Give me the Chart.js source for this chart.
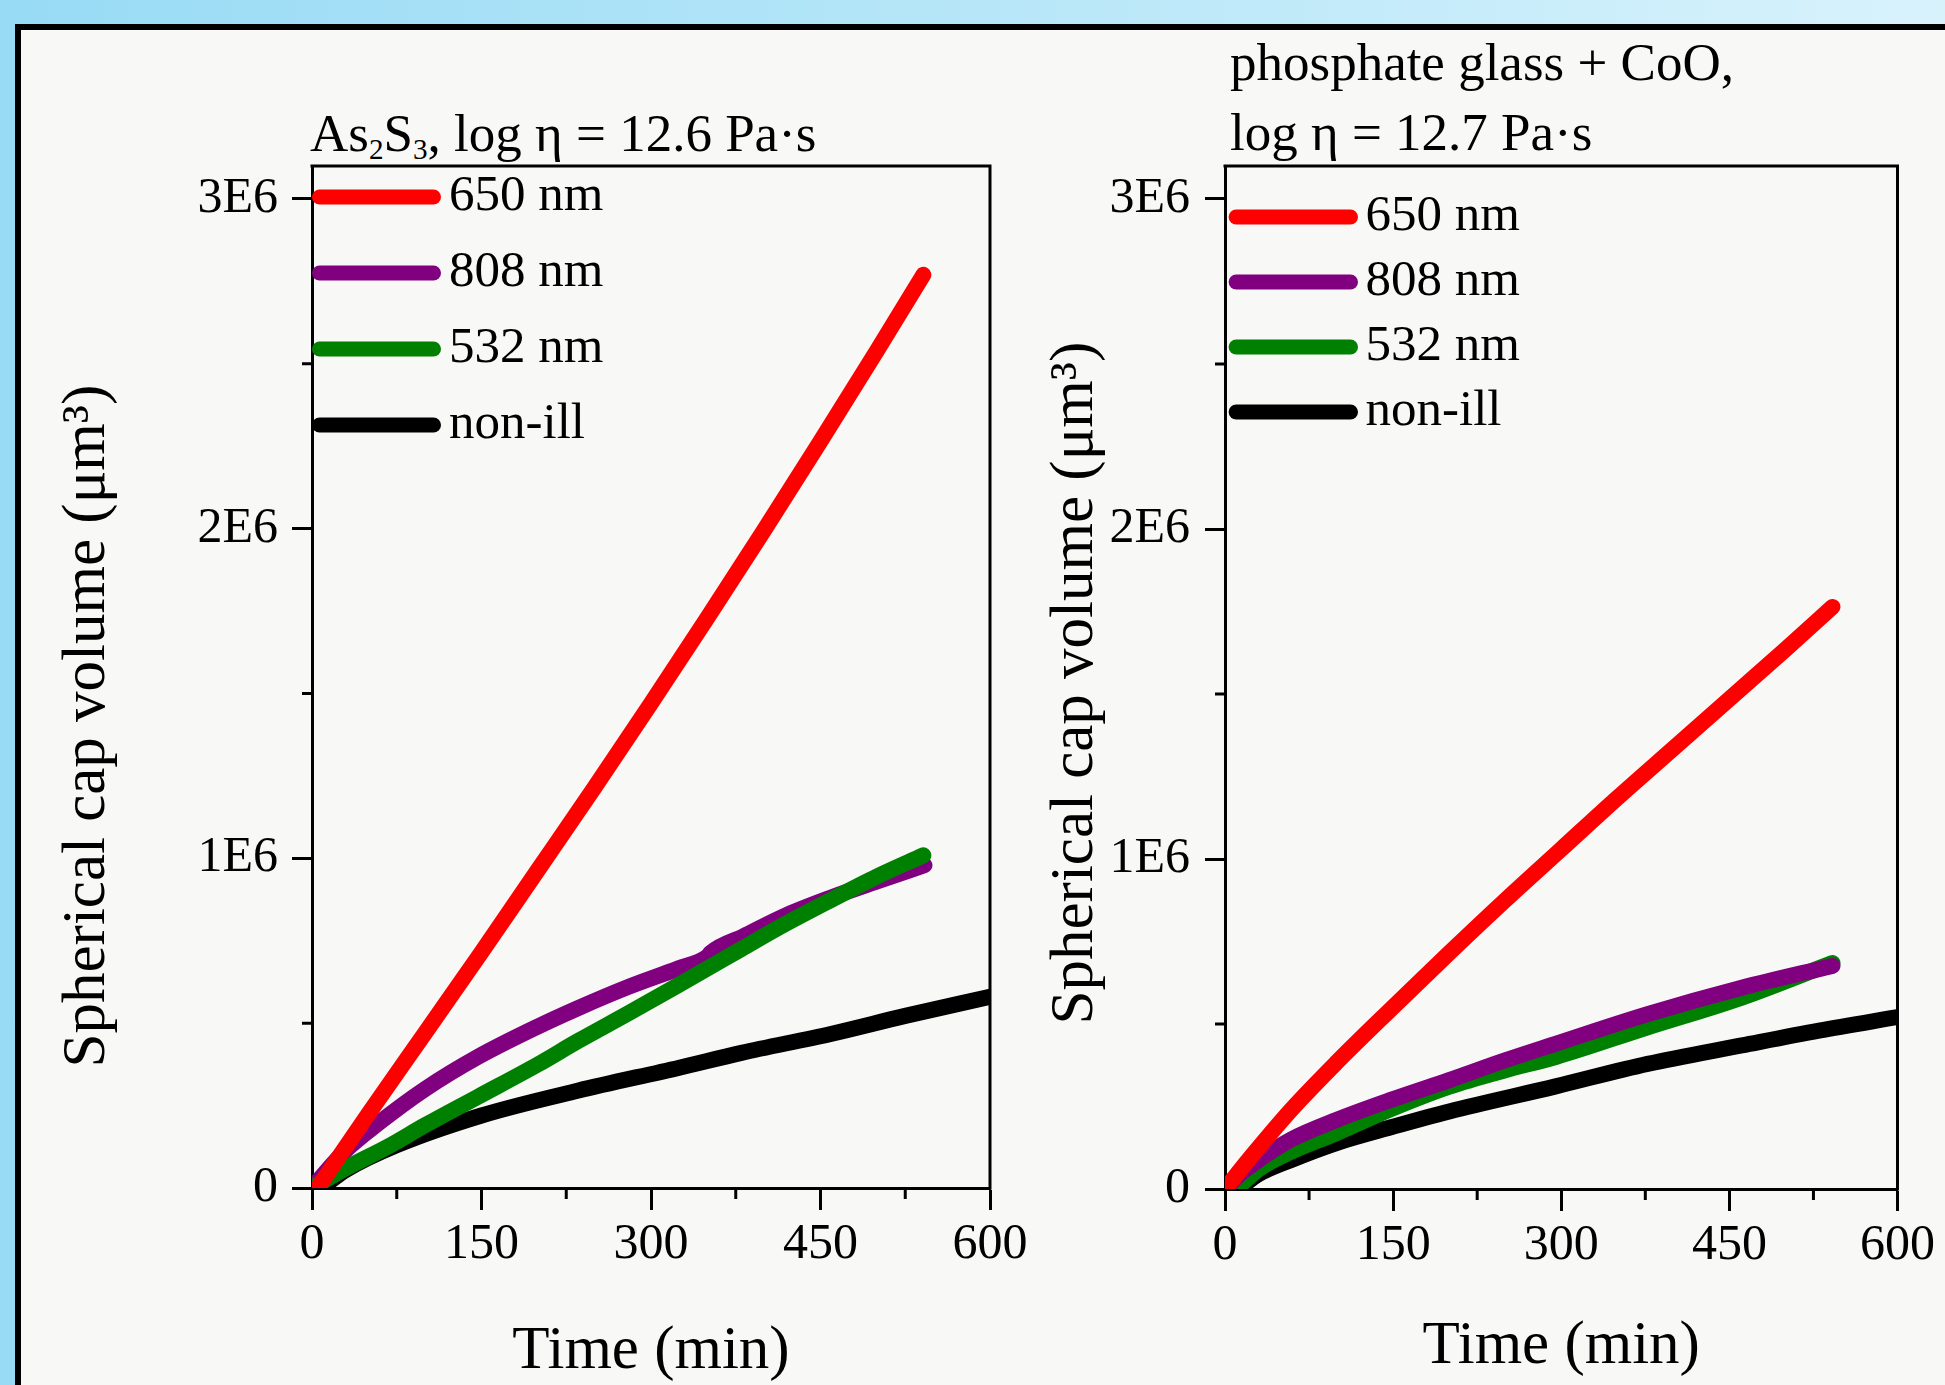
<!DOCTYPE html>
<html><head><meta charset="utf-8">
<script src="https://cdn.jsdelivr.net/npm/chart.js@4.4.1/dist/chart.umd.min.js"></script>
<style>
html,body{margin:0;padding:0;width:1945px;height:1385px;overflow:hidden;}
body{background:linear-gradient(90deg,#98dbf5 0%,#b6e6f8 50%,#d8f2fc 100%);position:relative;font-family:'Liberation Serif','Times New Roman',serif;}
#frame{position:absolute;left:15px;top:24px;width:1960px;height:1400px;border-left:6px solid #000;border-top:6px solid #000;background:#f8f8f6;}
canvas{position:absolute;top:0;}
#c1{left:0}
#c2{left:1000px}
.head{position:absolute;font-size:53px;line-height:53px;color:#000;white-space:nowrap;}
.sb{font-size:0.55em;position:relative;top:0.28em;line-height:0;}
</style></head>
<body>
<div id="frame"></div>
<div class="head" style="left:310px;top:107px">As<span class="sb">2</span>S<span class="sb">3</span>, log η = 12.6 Pa·s</div>
<div class="head" style="left:1230px;top:36px">phosphate glass + CoO,</div>
<div class="head" style="left:1230px;top:106px">log η = 12.7 Pa·s</div>
<canvas id="c1" width="1040" height="1385"></canvas>
<canvas id="c2" width="945" height="1385"></canvas>
<script>
// ---- series names / colours ----
const seriesLabels = ['650 nm', '808 nm', '532 nm', 'non-ill'];
const seriesColors = ['#ff0000', '#800080', '#008000', '#000000'];

// ---- As2S3, log eta = 12.6 Pa·s (left panel) ----
const asTime650 = [5, 50, 100, 150, 200, 250, 300, 350, 400, 450, 500, 541];
const asVol650  = [0, 0.225e6, 0.47e6, 0.715e6, 0.965e6, 1.215e6, 1.47e6, 1.73e6, 1.995e6, 2.265e6, 2.54e6, 2.77e6];
const asTime808 = [0, 15, 30, 59, 100, 147, 200, 235, 280, 324, 350, 353, 382, 420, 460, 500, 542];
const asVol808  = [0, 0.06e6, 0.115e6, 0.197e6, 0.30e6, 0.398e6, 0.49e6, 0.545e6, 0.61e6, 0.666e6, 0.702e6, 0.714e6, 0.764e6, 0.828e6, 0.882e6, 0.93e6, 0.979e6];
const asTime532 = [0, 30, 67, 100, 147, 200, 235, 280, 324, 380, 412, 460, 500, 541];
const asVol532  = [0, 0.06e6, 0.125e6, 0.19e6, 0.277e6, 0.375e6, 0.445e6, 0.53e6, 0.615e6, 0.725e6, 0.788e6, 0.875e6, 0.945e6, 1.009e6];
const asTimeDark = [8, 30, 75, 150, 235, 325, 380, 460, 525, 600];
const asVolDark  = [0, 0.055e6, 0.13e6, 0.22e6, 0.295e6, 0.365e6, 0.41e6, 0.468e6, 0.522e6, 0.58e6];

// ---- phosphate glass + CoO, log eta = 12.7 Pa·s (right panel) ----
const phTime650 = [0, 25, 59, 100, 148, 200, 250, 300, 350, 400, 450, 500, 542];
const phVol650  = [0, 0.105e6, 0.24e6, 0.385e6, 0.545e6, 0.715e6, 0.875e6, 1.03e6, 1.185e6, 1.335e6, 1.485e6, 1.635e6, 1.764e6];
const phTime808 = [0, 15, 30, 59, 100, 148, 200, 250, 295, 377, 461, 542];
const phVol808  = [0, 0.05e6, 0.088e6, 0.15e6, 0.21e6, 0.27e6, 0.33e6, 0.39e6, 0.44e6, 0.53e6, 0.61e6, 0.676e6];
const phTime532 = [10, 30, 59, 100, 148, 200, 250, 295, 377, 461, 542];
const phVol532  = [0, 0.06e6, 0.113e6, 0.17e6, 0.242e6, 0.31e6, 0.36e6, 0.40e6, 0.49e6, 0.58e6, 0.685e6];
const phTimeDark = [12, 30, 59, 100, 148, 200, 295, 377, 461, 530, 600];
const phVolDark  = [0, 0.045e6, 0.088e6, 0.14e6, 0.187e6, 0.235e6, 0.311e6, 0.379e6, 0.435e6, 0.48e6, 0.521e6];

// ---- axes ----
const xTickValues = [0, 150, 300, 450, 600];
const xTickLabels = ['0', '150', '300', '450', '600'];
const xMinorTicks = [75, 225, 375, 525];
const yTickValues = [0, 1e6, 2e6, 3e6];
const yTickLabels = ['0', '1E6', '2E6', '3E6'];
const yMinorTicks = [0.5e6, 1.5e6, 2.5e6];
const xRange = [0, 600];
const yRange = [0, 3.1e6];
const xTitle = 'Time (min)';
const yTitle = 'Spherical cap volume (\u03bcm\u00b3)';

const FONT = "'Liberation Serif', 'Times New Roman', serif";

const decorPlugin = {
  id: 'decor',
  afterDraw(chart, args, o) {
    const {ctx, chartArea: a} = chart;
    const xs = chart.scales.x, ys = chart.scales.y;
    ctx.save();
    ctx.strokeStyle = '#000'; ctx.lineWidth = 3; ctx.lineCap = 'butt';
    ctx.beginPath();
    ctx.moveTo(a.left - 1.5, a.top); ctx.lineTo(a.right, a.top); ctx.lineTo(a.right, a.bottom + 1.5);
    xMinorTicks.forEach(v => { const p = xs.getPixelForValue(v); ctx.moveTo(p, a.bottom); ctx.lineTo(p, a.bottom + o.minorX); });
    yMinorTicks.forEach(v => { const p = ys.getPixelForValue(v); ctx.moveTo(a.left, p); ctx.lineTo(a.left - o.minorY, p); });
    ctx.stroke();
    // legend inside the plot
    const L = o.legend;
    ctx.font = L.size + 'px ' + FONT;
    ctx.textBaseline = 'middle'; ctx.textAlign = 'left';
    chart.data.datasets.forEach((ds, i) => {
      const y = a.top + L.dy + i * L.spacing;
      const x0 = a.left + L.dx, x1 = x0 + L.len, r = L.width / 2;
      ctx.beginPath(); ctx.strokeStyle = ds.borderColor; ctx.lineWidth = L.width; ctx.lineCap = 'round';
      ctx.moveTo(x0 + r, y); ctx.lineTo(x1 - r, y); ctx.stroke();
      ctx.fillStyle = '#000'; ctx.fillText(ds.label, x1 + L.gap, y);
    });
    // y axis title
    ctx.translate(o.yTitle.x, o.yTitle.y); ctx.rotate(-Math.PI / 2);
    ctx.font = o.yTitle.size + 'px ' + FONT; ctx.textAlign = 'center'; ctx.textBaseline = 'middle';
    ctx.fillStyle = '#000';
    ctx.fillText(yTitle, 0, 0);
    ctx.restore();
  }
};

function pts(t, v) { return t.map((x, i) => ({x: x, y: v[i]})); }

function makeChart(id, sets, drawOrder, L) {
  const datasets = sets.map((s, i) => ({
    label: seriesLabels[i],
    data: pts(s[0], s[1]),
    borderColor: seriesColors[i],
    backgroundColor: seriesColors[i],
    borderWidth: 16,
    borderCapStyle: 'round', borderJoinStyle: 'round',
    pointRadius: 0, pointHoverRadius: 0,
    cubicInterpolationMode: 'monotone',
    fill: false, clip: 0, order: drawOrder[i]
  }));
  return new Chart(document.getElementById(id), {
    type: 'line',
    data: {datasets: datasets},
    options: {
      responsive: false, animation: false, devicePixelRatio: 1, events: [],
      layout: {padding: {left: 0, top: L.top, right: L.right, bottom: 0}},
      plugins: {legend: {display: false}, tooltip: {enabled: false}, decor: L.decor},
      scales: {
        x: {
          type: 'linear', min: xRange[0], max: xRange[1], position: 'bottom',
          afterFit: s => { s.height = L.xHeight; },
          afterBuildTicks: s => { s.ticks = xTickValues.map(v => ({value: v})); },
          ticks: {callback: v => xTickLabels[xTickValues.indexOf(v)], font: {family: FONT, size: 50, lineHeight: 1}, color: '#000', padding: 10, maxRotation: 0, autoSkip: false},
          grid: {drawOnChartArea: false, drawTicks: true, tickLength: 22, tickWidth: 3, tickColor: '#000'},
          border: {display: true, width: 3, color: '#000'},
          title: {display: true, text: xTitle, color: '#000', font: {family: FONT, size: 61, lineHeight: 1}, padding: {top: 0, bottom: L.xTitlePad}}
        },
        y: {
          type: 'linear', min: yRange[0], max: yRange[1], position: 'left',
          afterFit: s => { s.width = L.yWidth; },
          afterBuildTicks: s => { s.ticks = yTickValues.map(v => ({value: v})); },
          ticks: {callback: v => yTickLabels[yTickValues.indexOf(v)], font: {family: FONT, size: 50, lineHeight: 1}, color: '#000', padding: L.yPad, autoSkip: false},
          grid: {drawOnChartArea: false, drawTicks: true, tickLength: 20, tickWidth: 3, tickColor: '#000'},
          border: {display: true, width: 3, color: '#000'},
          title: {display: false}
        }
      }
    },
    plugins: [decorPlugin]
  });
}

makeChart('c1',
  [[asTime650, asVol650], [asTime808, asVol808], [asTime532, asVol532], [asTimeDark, asVolDark]],
  [0, 2, 1, 3],
  {top: 166, right: 50, xHeight: 197, yWidth: 312, yPad: 14, xTitlePad: 2.5,
   decor: {minorX: 11, minorY: 10,
           legend: {dx: 0, dy: 31, spacing: 76, len: 129, width: 15, gap: 8, size: 51},
           yTitle: {x: 88, y: 726, size: 61}}});

makeChart('c2',
  [[phTime650, phVol650], [phTime808, phVol808], [phTime532, phVol532], [phTimeDark, phVolDark]],
  [0, 1, 2, 3],
  {top: 166, right: 43, xHeight: 196, yWidth: 225, yPad: 15, xTitlePad: 8,
   decor: {minorX: 11, minorY: 10,
           legend: {dx: 3.6, dy: 51, spacing: 65, len: 129.4, width: 15, gap: 7.5, size: 51},
           yTitle: {x: 76, y: 683, size: 61}}});
</script>
</body></html>
